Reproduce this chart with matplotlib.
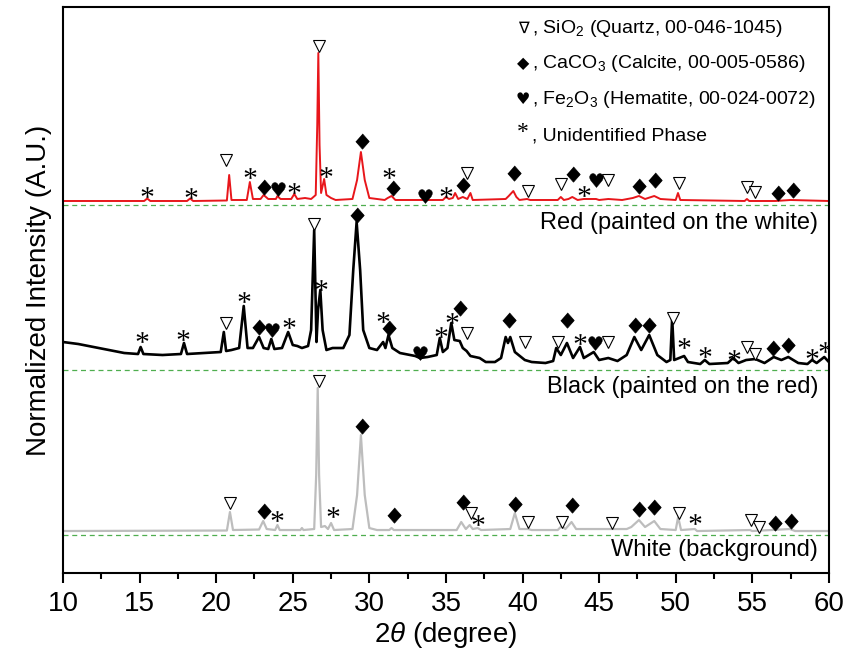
import numpy as np
import matplotlib.pyplot as plt
from matplotlib.textpath import TextPath
from matplotlib.font_manager import FontProperties
from matplotlib.path import Path

plt.rcParams['font.family'] = ['Liberation Sans', 'DejaVu Sans']
plt.rcParams['mathtext.fontset'] = 'custom'
plt.rcParams['mathtext.rm'] = 'Liberation Sans'
plt.rcParams['mathtext.it'] = 'Liberation Sans:italic'

# ---- patterns (2theta, intensity above each dashed baseline) ----
red_x = [10.0, 15.3, 15.5, 15.7, 18.1, 18.3, 18.5, 20.7, 20.85, 21.0, 22.0, 22.2, 22.4, 22.9, 23.1, 23.4,
         23.9, 24.0, 24.2, 24.9, 25.1, 25.3, 25.8, 26.2, 26.5, 26.6, 26.67, 26.75, 26.85, 27.05, 27.2, 27.5,
         27.8, 28.9, 29.2, 29.45, 29.7, 30.0, 31.0, 31.2, 31.45, 31.7, 33.5, 33.6, 33.8, 34.8, 35.0, 35.2,
         35.45, 35.6, 35.8, 36.1, 36.4, 36.6, 36.75, 38.9, 39.1, 39.4, 39.6, 39.8, 40.3, 40.5, 42.3, 42.5,
         42.7, 43.0, 43.25, 43.6, 44.0, 44.8, 45.0, 45.6, 46.5, 47.2, 47.6, 48.0, 48.6, 49.0, 50.0, 50.15,
         50.3, 54.5, 54.65, 54.8, 56.5, 57.5, 60.0]
red_y = [4, 4, 6.5, 4, 4, 6.5, 4, 4.5, 30, 5, 5, 23, 6, 6, 10, 6,
         6, 9, 6, 6, 11, 6, 7, 6, 10, 80, 152, 60, 12, 26, 10, 7,
         5, 6, 25, 53, 25, 7, 5, 7, 9, 5, 5, 6, 5, 5, 8, 6,
         7, 12, 6, 8, 6, 12, 5, 6, 9, 14, 8, 5, 6, 5, 5, 8,
         5, 6, 8, 5, 6, 6, 5, 6, 5, 7, 9, 6, 9, 6, 5, 12,
         5, 4, 6, 4, 4, 5, 4]

black_x = [10.0, 11.0, 12.0, 13.0, 14.0, 14.9, 15.07, 15.25, 16.5, 17.7, 17.9, 18.1, 19.2, 20.3, 20.5, 20.65,
           21.0, 21.5, 21.8, 22.05, 22.4, 22.8, 23.1, 23.4, 23.6, 23.8, 24.3, 24.7, 25.0, 25.3, 25.6, 26.0,
           26.2, 26.4, 26.55, 26.65, 26.8, 26.95, 27.2, 27.6, 28.3, 28.7, 28.95, 29.17, 29.4, 29.6, 30.0, 30.5,
           30.9, 31.05, 31.25, 31.5, 32.0, 33.0, 33.3, 33.8, 34.4, 34.6, 34.8, 35.1, 35.35, 35.55, 35.9, 36.1,
           36.35, 36.6, 37.2, 37.6, 38.2, 38.6, 38.9, 39.05, 39.2, 39.5, 40.15, 40.6, 41.5, 42.0, 42.2, 42.5,
           42.9, 43.3, 43.75, 44.0, 44.65, 45.0, 45.6, 46.2, 46.8, 47.3, 47.75, 48.27, 48.8, 49.4, 49.65, 49.77,
           49.9, 50.55, 50.8, 51.6, 51.9, 52.2, 53.4, 53.75, 54.1, 54.6, 55.2, 55.8, 56.4, 56.9, 57.35, 58.0,
           58.6, 58.9, 59.2, 59.7, 60.0]
black_y = [28, 26, 23, 20, 17, 16, 23, 16, 15, 16, 27, 16, 17, 18, 38, 19,
           20, 22, 64, 22, 22, 33, 22, 21, 31, 21, 22, 38, 25, 24, 22, 24,
           40, 140, 28, 60, 80, 40, 20, 22, 22, 35, 100, 148, 100, 40, 22, 20,
           28, 22, 35, 22, 17, 14, 12, 13, 15, 32, 18, 22, 47, 30, 29, 22,
           19, 14, 12, 8, 8, 12, 33, 27, 33, 18, 10, 8, 7, 9, 22, 15,
           27, 12, 23, 12, 18, 10, 12, 9, 15, 33, 20, 35, 15, 8, 10, 52,
           10, 14, 8, 6, 10, 6, 7, 12, 7, 10, 11, 7, 13, 10, 13, 7,
           6, 10, 7, 13, 8]

white_x = [10.0, 20.7, 20.9, 21.1, 22.8, 23.07, 23.3, 23.85, 24.0, 24.15, 25.5, 25.6, 25.7, 26.4, 26.53, 26.63,
           26.72, 26.85, 27.1, 27.3, 27.5, 27.7, 28.9, 29.2, 29.45, 29.7, 30.0, 30.5, 31.3, 31.45, 31.6, 35.7,
           36.0, 36.3, 36.55, 36.75, 37.07, 37.3, 39.2, 39.5, 39.8, 40.37, 40.6, 42.3, 42.55, 42.8, 43.2, 43.5,
           45.85, 46.8, 47.1, 47.6, 48.0, 48.6, 49.0, 50.0, 50.16, 50.35, 51.25, 51.4, 54.85, 55.0, 57.45, 57.8,
           60.0]
white_y = [4, 4.5, 23, 5, 5.5, 14, 6, 5, 10, 5, 5, 7, 5, 6, 60, 147,
           60, 8, 9, 6, 12, 5, 6, 40, 100, 40, 7, 5, 5, 7, 5, 5,
           13, 6, 10, 6, 7, 5, 6, 22, 6, 6, 5, 5, 9, 6, 13, 6,
           6, 6, 8, 15, 8, 14, 6, 5, 18, 5, 6, 4, 5, 4, 6, 4,
           4]

offsets = [368, 203, 38]

# ---- phase markers: q quartz, c calcite, h hematite, u unidentified ----
red_marks = [(15.48, 13, 'u'), (18.34, 12, 'u'), (20.66, 45, 'q'), (22.21, 32, 'u'), (23.12, 18, 'c'),
             (24.01, 16, 'h'), (25.10, 17, 'u'), (26.73, 159, 'q'), (27.15, 33, 'u'), (29.50, 64, 'c'),
             (31.30, 32, 'u'), (31.52, 17, 'c'), (33.63, 9, 'h'), (34.98, 13, 'u'), (36.13, 20, 'c'),
             (36.35, 32, 'q'), (39.44, 32, 'c'), (40.37, 14, 'q'), (42.49, 21, 'q'), (43.27, 31, 'c'),
             (44.01, 14, 'u'), (44.79, 25, 'h'), (45.59, 25, 'q'), (47.60, 19, 'c'), (48.64, 25, 'c'),
             (50.23, 22, 'q'), (54.63, 18, 'q'), (55.17, 13, 'q'), (56.69, 12, 'c'), (57.63, 15, 'c')]
black_marks = [(15.14, 33, 'u'), (17.85, 35, 'u'), (20.64, 47, 'q'), (21.81, 73, 'u'), (22.81, 43, 'c'),
               (23.62, 40, 'h'), (24.73, 47, 'u'), (26.38, 146, 'q'), (26.84, 85, 'u'), (29.17, 155, 'c'),
               (30.91, 53, 'u'), (31.28, 42, 'c'), (33.30, 17, 'h'), (34.65, 38, 'u'), (35.37, 52, 'u'),
               (35.91, 62, 'c'), (36.35, 37, 'q'), (39.11, 50, 'c'), (40.16, 28, 'q'), (42.33, 28, 'q'),
               (42.88, 50, 'c'), (43.75, 31, 'u'), (44.73, 27, 'h'), (45.59, 28, 'q'), (47.34, 45, 'c'),
               (48.27, 45, 'c'), (49.80, 52, 'q'), (50.56, 27, 'u'), (51.91, 18, 'u'), (53.80, 15, 'u'),
               (54.63, 23, 'q'), (55.17, 16, 'q'), (56.36, 22, 'c'), (57.34, 25, 'c'), (58.87, 16, 'u'),
               (59.74, 23, 'u')]
white_marks = [(20.90, 32, 'q'), (23.12, 24, 'c'), (23.99, 19, 'u'), (26.71, 154, 'q'), (27.60, 23, 'u'),
               (29.50, 109, 'c'), (31.61, 20, 'c'), (36.09, 33, 'c'), (36.61, 22, 'q'), (37.07, 15, 'u'),
               (39.50, 31, 'c'), (40.37, 13, 'q'), (42.55, 13, 'q'), (43.21, 30, 'c'), (45.86, 12, 'q'),
               (47.62, 26, 'c'), (48.58, 28, 'c'), (50.23, 22, 'q'), (51.25, 16, 'u'), (54.89, 15, 'q'),
               (55.45, 8, 'q'), (56.48, 12, 'c'), (57.50, 14, 'c')]

legend_symbols = ['\u2207', '\u25c6', '\u2665', '*']
legend_texts = [', SiO$_2$ (Quartz, 00-046-1045)',
                ', CaCO$_3$ (Calcite, 00-005-0586)',
                ', Fe$_2$O$_3$ (Hematite, 00-024-0072)',
                ', Unidentified Phase']
sample_names = ['Red (painted on the white)', 'Black (painted on the red)', 'White (background)']


def glyph(ch, family):
    # glyph outline centred on its box, for use as a marker
    p = TextPath((0, 0), ch, size=10, prop=FontProperties(family=family))
    v = p.vertices.copy()
    c = p.codes
    start = v[0].copy()
    for i in range(len(v)):
        if c[i] == Path.MOVETO:
            start = v[i].copy()
        elif c[i] == Path.CLOSEPOLY:
            v[i] = start
    e = Path(v, c).get_extents()
    v = v - [(e.x0 + e.x1) / 2, (e.y0 + e.y1) / 2]
    return Path(v, c)


styles = {
    'q': dict(marker='v', ms=8.5, mfc='white', mec='black', mew=0.8),
    'c': dict(marker=[(0, 1), (0.88, 0), (0, -1), (-0.88, 0)], ms=11, mfc='black', mec='black', mew=0.5),
    'h': dict(marker=glyph('\u2665', 'DejaVu Sans'), ms=10, mfc='black', mec='black', mew=0.3),
    'u': dict(marker=glyph('*', 'Liberation Serif'), ms=8.5, mfc='black', mec='none', mew=0),
}

fig = plt.figure(figsize=(8.51, 6.64), dpi=100)
ax = fig.add_axes([0.074, 0.137, 0.90, 0.8525])

traces = [(red_x, red_y, '#e8161b', 1.4, red_marks),
          (black_x, black_y, 'black', 1.9, black_marks),
          (white_x, white_y, '#bdbdbd', 1.6, white_marks)]
for (xs, ys, col, lw, marks), off in zip(traces, offsets):
    ax.axhline(off, color='#4fae4f', lw=0.9, ls=(0, (4, 3)), zorder=1)
    ax.plot(xs, np.array(ys) + off, color=col, lw=lw, zorder=2)
    for mx, my, k in marks:
        ax.plot(mx, my + off, ls='none', zorder=3, **styles[k])

legend_y = [0.962, 0.900, 0.836, 0.772]
for sym, txt, yy in zip(legend_symbols, legend_texts, legend_y):
    if sym == '*':
        ax.text(0.601, yy + 0.006, sym, transform=ax.transAxes, fontsize=17, ha='center', va='center',
                family=['Liberation Serif'])
    else:
        ax.text(0.601, yy, sym, transform=ax.transAxes, fontsize=11.5, ha='center', va='center',
                family=['DejaVu Sans'])
    ax.text(0.612, yy, txt, transform=ax.transAxes, fontsize=14, ha='left', va='center')

for name, yy in zip(sample_names, [0.618, 0.329, 0.041]):
    ax.text(0.986, yy, name, transform=ax.transAxes, fontsize=17, ha='right', va='center')

ax.set_xlim(10, 60)
ax.set_ylim(0, 566)
ax.set_yticks([])
ax.set_xticks(np.arange(10, 61, 5))
ax.set_xticks(np.arange(12.5, 60, 5), minor=True)
ax.tick_params(axis='x', which='major', direction='out', length=7, width=1.5, labelsize=20, pad=6)
ax.tick_params(axis='x', which='minor', direction='out', length=4, width=1.5)
for s in ax.spines.values():
    s.set_linewidth(1.5)
ax.set_xlabel(r'2$\theta$ (degree)', fontsize=20, labelpad=2)
ax.set_ylabel('Normalized Intensity (A.U.)', fontsize=20, labelpad=8)

fig.savefig('out.png', dpi=100)
